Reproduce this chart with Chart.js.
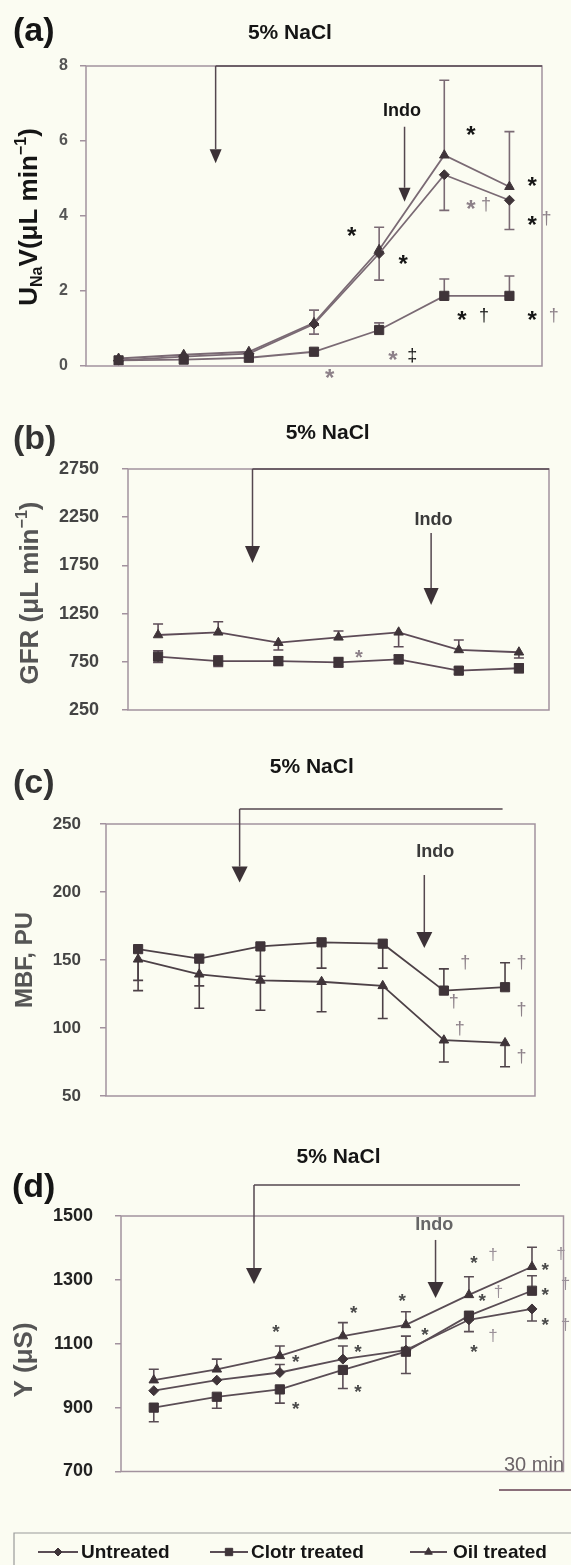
<!doctype html>
<html>
<head>
<meta charset="UTF-8">
<title>5% NaCl - Untreated, Clotr treated, Oil treated</title>
<script src="https://cdn.jsdelivr.net/npm/chart.js"></script>
<style>
  body { margin: 0; background: #fbfcf2; width: 571px; height: 1565px; overflow: hidden; position: relative; }
  canvas { position: absolute; left: 0; }
</style>
</head>
<body>
<canvas id="pa" style="top:0px" width="571" height="400"></canvas>
<canvas id="pb" style="top:400px" width="571" height="350"></canvas>
<canvas id="pc" style="top:750px" width="571" height="390"></canvas>
<canvas id="pd" style="top:1140px" width="571" height="425"></canvas>
<script>
// collection periods (x positions of the points)
var periods = [1, 2, 3, 4, 5, 6, 7];
var seriesNames = ["Untreated", "Clotr treated", "Oil treated"];

// (a) UNaV, uL/min
var unavTicks = [0, 2, 4, 6, 8];
var unavUntreated = [0.15, 0.25, 0.33, 1.12, 3.0, 5.1, 4.42];
var unavUntreatedUp = [0, 0, 0, 0.37, 0, 0, 0];
var unavUntreatedDown = [0, 0, 0, 0.27, 0.71, 0.95, 0.78];
var unavClotr = [0.15, 0.17, 0.22, 0.38, 0.96, 1.87, 1.87];
var unavClotrUp = [0, 0, 0, 0, 0.19, 0.45, 0.53];
var unavOil = [0.2, 0.3, 0.38, 1.15, 3.1, 5.62, 4.78];
var unavOilUp = [0, 0, 0, 0, 0.6, 2.0, 1.47];

// (b) GFR, uL/min
var gfrTicks = [250, 750, 1250, 1750, 2250, 2750];
var gfrClotr = [803, 758, 758, 745, 776, 658, 683];
var gfrClotrErr = [60, 55, 45, 50, 45, 35, 45];
var gfrOil = [1028, 1056, 948, 1004, 1056, 873, 849];
var gfrOilUp = [114, 110, 0, 65, 0, 103, 0];
var gfrOilDown = [0, 0, 75, 0, 150, 0, 60];

// (c) MBF, PU
var mbfTicks = [50, 100, 150, 200, 250];
var mbfClotr = [158, 151, 160, 163, 162, 127.5, 130];
var mbfClotrUp = [0, 0, 0, 0, 0, 16, 18];
var mbfClotrDown = [23, 20, 22, 19, 18, 0, 0];
var mbfOil = [150.5, 139.5, 135, 134, 131, 91, 89];
var mbfOilDown = [23, 25, 22, 22, 24, 16, 17.5];

// (d) Y, uS
var yTicks = [700, 900, 1100, 1300, 1500];
var yUntreated = [953, 986, 1010, 1052, 1080, 1175, 1209];
var yUntreatedUp = [0, 0, 25, 41, 44, 0, 0];
var yUntreatedDown = [0, 0, 0, 0, 0, 0, 38];
var yClotr = [900, 934, 957, 1018, 1075, 1188, 1266];
var yClotrUp = [0, 0, 0, 0, 0, 0, 47];
var yClotrDown = [44, 36, 43, 58, 68, 50, 0];
var yOil = [986, 1020, 1062, 1124, 1159, 1253, 1341];
var yOilUp = [34, 32, 31, 42, 41, 57, 61];

var FONT = '"Liberation Sans", Arial, Helvetica, sans-serif';
var MARK = '#3f3439';
var FRAME = '#a2929e';
var BLACK = '#151515', GREY = '#8d8189';

var markers = {
  "Untreated": ['rectRot', 5],
  "Clotr treated": ['rect', 6.5],
  "Oil treated": ['triangle', 5.5]
};

function series(name, vals, up, down, color) {
  var m = markers[name];
  return {
    label: name,
    data: periods.map(function (p, i) { return { x: p, y: vals[i] }; }),
    errUp: up || null,
    errDown: down || null,
    borderColor: color,
    borderWidth: 1.8,
    pointStyle: m[0],
    pointRadius: m[1],
    pointBackgroundColor: MARK,
    pointBorderColor: MARK,
    pointBorderWidth: 1,
    tension: 0,
    fill: false
  };
}

// vertical error bars with caps, from errUp / errDown arrays
var errorBars = {
  id: 'errorBars',
  beforeDatasetsDraw: function (chart) {
    var ctx = chart.ctx, xs = chart.scales.x, ys = chart.scales.y;
    ctx.save();
    chart.data.datasets.forEach(function (d) {
      ctx.strokeStyle = d.borderColor;
      ctx.lineWidth = 1.6;
      d.data.forEach(function (pt, i) {
        var px = xs.getPixelForValue(pt.x), py = ys.getPixelForValue(pt.y);
        [[d.errUp, 1], [d.errDown, -1]].forEach(function (e) {
          if (!e[0] || !e[0][i]) return;
          var ey = ys.getPixelForValue(pt.y + e[1] * e[0][i]);
          ctx.beginPath();
          ctx.moveTo(px, py); ctx.lineTo(px, ey);
          ctx.moveTo(px - 5, ey); ctx.lineTo(px + 5, ey);
          ctx.stroke();
        });
      });
    });
    ctx.restore();
  }
};

function richText(ctx, parts, cx, cy, size, color, rotate) {
  ctx.save();
  ctx.translate(cx, cy);
  if (rotate) ctx.rotate(-Math.PI / 2);
  var w = 0;
  parts.forEach(function (p) {
    p.fs = p.s ? size * 0.62 : size;
    ctx.font = 'bold ' + p.fs + 'px ' + FONT;
    p.w = ctx.measureText(p.t).width;
    w += p.w;
  });
  var x = -w / 2;
  ctx.fillStyle = color;
  ctx.textBaseline = 'middle';
  ctx.textAlign = 'left';
  parts.forEach(function (p) {
    ctx.font = 'bold ' + p.fs + 'px ' + FONT;
    var dy = p.s === 'sub' ? size * 0.3 : (p.s === 'sup' ? -size * 0.32 : 0);
    ctx.fillText(p.t, x, dy);
    x += p.w;
  });
  ctx.restore();
}

function arrowDown(ctx, x, y0, y1, hw, hh) {
  ctx.beginPath();
  ctx.moveTo(x, y0); ctx.lineTo(x, y1 - hh);
  ctx.stroke();
  ctx.beginPath();
  ctx.moveTo(x - hw / 2, y1 - hh); ctx.lineTo(x + hw / 2, y1 - hh); ctx.lineTo(x, y1);
  ctx.closePath();
  ctx.fill();
}

function centeredGlyph(ctx, t, x, y) {
  var m = ctx.measureText(t);
  ctx.fillText(t, x, y + (m.actualBoundingBoxAscent - m.actualBoundingBoxDescent) / 2);
}

// frame, arrows, labels, significance marks, legend
var deco = {
  id: 'deco',
  afterDraw: function (chart) {
    var o = chart.options.plugins.deco;
    if (!o) return;
    var ctx = chart.ctx, xs = chart.scales.x, ys = chart.scales.y, a = chart.chartArea;
    var X = function (v) { return xs.getPixelForValue(v); };
    var Y = function (v) { return ys.getPixelForValue(v); };
    ctx.save();
    ctx.strokeStyle = FRAME;
    ctx.lineWidth = 1.5;
    ctx.strokeRect(a.left, a.top, a.right - a.left, a.bottom - a.top);

    // 5% NaCl infusion
    var s = o.salt;
    ctx.strokeStyle = '#54474f';
    ctx.fillStyle = '#3c3237';
    ctx.lineWidth = 1.5;
    ctx.beginPath();
    ctx.moveTo(X(s.xEnd), Y(s.y)); ctx.lineTo(X(s.x), Y(s.y));
    ctx.stroke();
    arrowDown(ctx, X(s.x), Y(s.y), Y(s.tip), s.head[0], s.head[1]);
    ctx.font = 'bold 21px ' + FONT;
    ctx.fillStyle = BLACK;
    ctx.textAlign = 'center';
    ctx.textBaseline = 'middle';
    ctx.fillText('5% NaCl', X(s.tx), Y(s.ty));

    // Indo
    var n = o.indo;
    ctx.fillStyle = '#3c3237';
    arrowDown(ctx, X(n.x), Y(n.top), Y(n.tip), s.head[0], s.head[1]);
    ctx.font = 'bold 18px ' + FONT;
    ctx.fillStyle = n.color;
    ctx.fillText('Indo', X(n.tx), Y(n.ty));

    // panel letter and axis title
    ctx.font = 'bold 34px ' + FONT;
    ctx.fillStyle = o.letter.color;
    ctx.textAlign = 'left';
    ctx.fillText(o.letter.t, o.letter.x, o.letter.y);
    richText(ctx, o.title.parts, o.title.x, o.title.y, o.title.size, o.title.color, true);

    // significance marks
    ctx.textAlign = 'center';
    o.marks.forEach(function (m) {
      ctx.font = (m[2] === '*' ? 'bold ' : '') + m[4] + 'px ' + FONT;
      ctx.fillStyle = m[3];
      centeredGlyph(ctx, m[2], X(m[0]), Y(m[1]));
    });

    // time scale bar
    if (o.scaleBar) {
      var b = o.scaleBar;
      ctx.font = '20px ' + FONT;
      ctx.fillStyle = '#6c6468';
      ctx.textAlign = 'left';
      ctx.fillText(b.t, b.tx, b.ty);
      ctx.strokeStyle = '#8a6f7a';
      ctx.lineWidth = 2;
      ctx.beginPath();
      ctx.moveTo(b.x1, b.y); ctx.lineTo(b.x2, b.y);
      ctx.stroke();
    }

    // legend (line + marker samples)
    if (o.legend) {
      var L = o.legend;
      ctx.strokeStyle = '#9a9a9a';
      ctx.lineWidth = 1.2;
      ctx.beginPath();
      ctx.moveTo(L.boxLeft, chart.height); ctx.lineTo(L.boxLeft, L.boxTop); ctx.lineTo(chart.width, L.boxTop);
      ctx.stroke();
      chart.data.datasets.forEach(function (d, i) {
        var it = L.items[seriesNames.indexOf(d.label)];
        ctx.strokeStyle = d.borderColor;
        ctx.lineWidth = 1.8;
        ctx.beginPath();
        ctx.moveTo(it[0], L.y); ctx.lineTo(it[1], L.y);
        ctx.stroke();
        ctx.fillStyle = MARK;
        ctx.strokeStyle = MARK;
        ctx.lineWidth = 1;
        Chart.helpers.drawPoint(ctx, { pointStyle: d.pointStyle, radius: d.pointRadius * 0.8, rotation: 0, borderWidth: 1 }, (it[0] + it[1]) / 2, L.y);
        ctx.font = 'bold 19px ' + FONT;
        ctx.fillStyle = BLACK;
        ctx.textAlign = 'left';
        ctx.textBaseline = 'middle';
        ctx.fillText(d.label, it[2], L.y + 1);
      });
    }
    ctx.restore();
  }
};

function panel(id, cfg) {
  return new Chart(document.getElementById(id), {
    type: 'line',
    data: { datasets: cfg.datasets },
    options: {
      responsive: false,
      animation: false,
      layout: { padding: cfg.pad },
      plugins: { legend: { display: false }, tooltip: { enabled: false }, deco: cfg.deco },
      scales: {
        x: { type: 'linear', display: false, min: cfg.xMin, max: cfg.xMax },
        y: {
          min: cfg.ticks[0],
          max: cfg.ticks[cfg.ticks.length - 1],
          afterBuildTicks: function (sc) { sc.ticks = cfg.ticks.map(function (v) { return { value: v }; }); },
          afterFit: function (sc) { sc.width = cfg.axisW; },
          ticks: {
            font: { family: FONT, size: cfg.tickSize, weight: 'bold' },
            color: cfg.tickColor,
            padding: cfg.tickPad,
            callback: function (v) { return String(v); }
          },
          grid: { drawOnChartArea: false, drawTicks: true, tickLength: 6, color: FRAME, lineWidth: 1.5 },
          border: { display: false }
        }
      }
    },
    plugins: [errorBars, deco]
  });
}

// (a)
var lineA = '#7a6a74';
panel('pa', {
  datasets: [
    series(seriesNames[0], unavUntreated, unavUntreatedUp, unavUntreatedDown, lineA),
    series(seriesNames[1], unavClotr, unavClotrUp, null, lineA),
    series(seriesNames[2], unavOil, unavOilUp, null, lineA)
  ],
  pad: { top: 66, bottom: 34, right: 29, left: 0 },
  axisW: 86, xMin: 0.5, xMax: 7.5,
  ticks: unavTicks, tickSize: 16, tickColor: '#555', tickPad: 12,
  deco: {
    salt: { x: 2.49, y: 8, tip: 5.41, xEnd: 7.5, tx: 3.63, ty: 8.88, head: [12, 14] },
    indo: { x: 5.39, top: 6.38, tip: 4.38, tx: 5.35, ty: 6.8, color: BLACK },
    letter: { t: '(a)', x: 13, y: 32, color: BLACK },
    title: { parts: [{ t: 'U' }, { t: 'Na', s: 'sub' }, { t: 'V(\u03bcL min' }, { t: '\u22121', s: 'sup' }, { t: ')' }], x: 30, y: 217, size: 26, color: BLACK },
    marks: [
      [6.41, 6.29, '*', BLACK, 24], [7.35, 4.92, '*', BLACK, 24],
      [6.41, 4.32, '*', GREY, 24], [6.64, 4.32, '\u2020', GREY, 18],
      [7.35, 3.89, '*', BLACK, 24], [7.57, 3.94, '\u2020', GREY, 18],
      [4.58, 3.58, '*', BLACK, 24], [5.37, 2.85, '*', BLACK, 24],
      [6.27, 1.36, '*', BLACK, 24], [6.61, 1.36, '\u2020', BLACK, 18],
      [7.35, 1.36, '*', BLACK, 24], [7.68, 1.36, '\u2020', GREY, 18],
      [5.21, 0.29, '*', GREY, 24], [5.51, 0.29, '\u2021', BLACK, 18],
      [4.24, -0.21, '*', GREY, 24]
    ]
  }
});

// (b)
var lineB = '#5d4b57';
panel('pb', {
  datasets: [
    series(seriesNames[1], gfrClotr, gfrClotrErr, gfrClotrErr, lineB),
    series(seriesNames[2], gfrOil, gfrOilUp, gfrOilDown, lineB)
  ],
  pad: { top: 69, bottom: 40, right: 22, left: 0 },
  axisW: 128, xMin: 0.5, xMax: 7.5,
  ticks: gfrTicks, tickSize: 18, tickColor: '#444', tickPad: 23,
  deco: {
    salt: { x: 2.57, y: 2750, tip: 1775, xEnd: 7.5, tx: 3.82, ty: 3123, head: [15, 17] },
    indo: { x: 5.54, top: 2086, tip: 1339, tx: 5.58, ty: 2221, color: '#3a3a3a' },
    letter: { t: '(b)', x: 13, y: 40, color: '#333' },
    title: { parts: [{ t: 'GFR (\u03bcL min' }, { t: '\u22121', s: 'sup' }, { t: ')' }], x: 31, y: 193, size: 26, color: '#555' },
    marks: [[4.34, 831, '*', GREY, 20]]
  }
});

// (c)
var lineC = '#4d4147';
panel('pc', {
  datasets: [
    series(seriesNames[1], mbfClotr, mbfClotrUp, mbfClotrDown, lineC),
    series(seriesNames[2], mbfOil, null, mbfOilDown, lineC)
  ],
  pad: { top: 74, bottom: 44, right: 36, left: 0 },
  axisW: 106, xMin: 0.475, xMax: 7.49,
  ticks: mbfTicks, tickSize: 17, tickColor: '#444', tickPad: 19,
  deco: {
    salt: { x: 2.66, y: 261, tip: 207, xEnd: 6.96, tx: 3.84, ty: 292, head: [16, 16] },
    indo: { x: 5.68, top: 212.5, tip: 158.8, tx: 5.86, ty: 229.4, color: '#3a3a3a' },
    letter: { t: '(c)', x: 13, y: 34, color: '#333' },
    title: { parts: [{ t: 'MBF, PU' }], x: 25, y: 210, size: 24, color: '#555' },
    marks: [
      [6.35, 148, '\u2020', GREY, 18], [7.27, 148, '\u2020', GREY, 18],
      [6.16, 119.3, '\u2020', GREY, 18], [7.27, 113.8, '\u2020', GREY, 18],
      [6.26, 99.8, '\u2020', GREY, 18], [7.27, 78.9, '\u2020', GREY, 18]
    ]
  }
});

// (d)
var lineD = '#5a4d55';
var DGREY = '#4a4a4a', DLIGHT = '#9b9199';
panel('pd', {
  datasets: [
    series(seriesNames[0], yUntreated, yUntreatedUp, yUntreatedDown, lineD),
    series(seriesNames[1], yClotr, yClotrUp, yClotrDown, lineD),
    series(seriesNames[2], yOil, yOilUp, null, lineD)
  ],
  pad: { top: 76, bottom: 93.5, right: 6, left: 0 },
  axisW: 121, xMin: 0.48, xMax: 7.5,
  ticks: yTicks, tickSize: 18, tickColor: '#222', tickPad: 22,
  deco: {
    salt: { x: 2.59, y: 1597, tip: 1287, xEnd: 6.81, tx: 3.93, ty: 1685, head: [16, 16] },
    indo: { x: 5.47, top: 1425, tip: 1243, tx: 5.45, ty: 1472, color: '#666' },
    letter: { t: '(d)', x: 12, y: 48, color: BLACK },
    title: { parts: [{ t: 'Y (\u03bcS)' }], x: 25, y: 220, size: 26, color: '#555' },
    marks: [
      [2.94, 1148, '*', DGREY, 19], [3.25, 1054, '*', DGREY, 19], [3.25, 908, '*', DGREY, 19],
      [4.17, 1206, '*', DGREY, 19], [4.24, 1086, '*', DGREY, 19], [4.24, 960, '*', DGREY, 19],
      [4.94, 1245, '*', DGREY, 19], [5.30, 1138, '*', DGREY, 19],
      [6.08, 1365, '*', DGREY, 19], [6.38, 1378, '\u2020', DLIGHT, 17],
      [6.21, 1245, '*', DGREY, 19], [6.47, 1263, '\u2020', DLIGHT, 17],
      [6.08, 1086, '*', DGREY, 19], [6.38, 1127, '\u2020', DLIGHT, 17],
      [7.21, 1343, '*', DGREY, 19], [7.46, 1383, '\u2020', DLIGHT, 17],
      [7.21, 1263, '*', DGREY, 19], [7.53, 1289, '\u2020', DLIGHT, 17],
      [7.21, 1169, '*', DGREY, 19], [7.53, 1159, '\u2020', DLIGHT, 17]
    ],
    scaleBar: { t: '30 min', tx: 504, ty: 325, x1: 499, x2: 571, y: 350 },
    legend: { y: 412, boxTop: 393, boxLeft: 14, items: [[38, 78, 81], [210, 248, 251], [410, 447, 453]] }
  }
});
</script>
</body>
</html>
